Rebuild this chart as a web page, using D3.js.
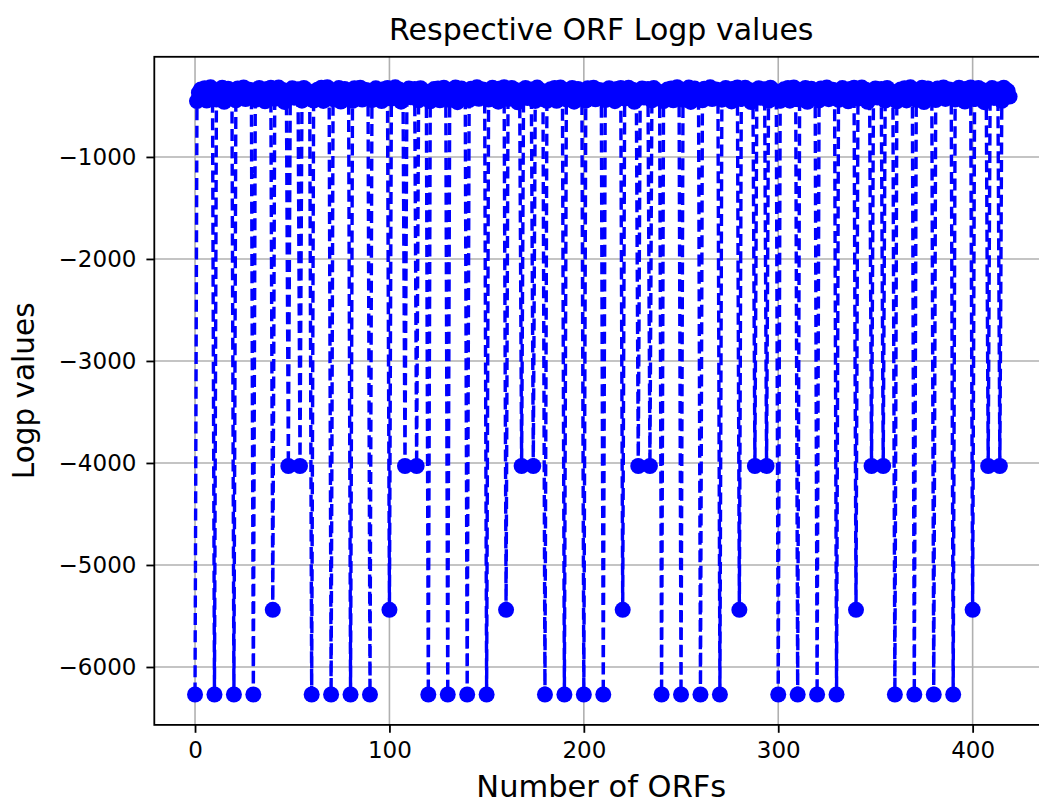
<!DOCTYPE html>
<html>
<head>
<meta charset="utf-8">
<script src="https://cdn.jsdelivr.net/npm/d3@7"></script>
<style>
  html, body { margin: 0; padding: 0; background: #fff; }
  svg { display: block; font-family: "DejaVu Sans", sans-serif; }
</style>
</head>
<body>
<div id="grafico"></div>
<script>
// Logp value of every ORF, in order (index = ORF number)
const logpValues = [
  -6270, -452, -371, -338, -405, -326, -447, -360, -318, -421,
  -6270, -438, -345, -392, -322, -460, -356, -331, -414, -377,
  -6270, -445, -329, -398, -350, -319, -433, -367, -341, -412,
  -6270, -440, -362, -324, -417, -349, -455, -333, -385, -321,
  -5440, -430, -358, -320, -402, -343, -461, -374, -4030, -352,
  -327, -419, -366, -336, -4030, -448, -323, -395, -354, -410,

  -6270, -447, -366, -341, -409, -322, -451, -363, -316, -425,
  -6270, -434, -349, -388, -325, -457, -352, -335, -418, -373,
  -6270, -449, -326, -401, -346, -321, -437, -364, -344, -408,
  -6270, -443, -358, -327, -413, -345, -452, -336, -381, -324,
  -5440, -427, -361, -318, -406, -340, -458, -371, -4030, -355,
  -330, -415, -369, -333, -4030, -444, -326, -391, -357, -414,

  -6270, -455, -368, -335, -401, -329, -444, -357, -321, -418,
  -6270, -441, -342, -395, -319, -463, -359, -328, -411, -380,
  -6270, -442, -332, -395, -353, -317, -430, -370, -338, -415,
  -6270, -437, -365, -321, -420, -352, -458, -330, -388, -318,
  -5440, -433, -355, -323, -399, -346, -464, -377, -4030, -349,
  -324, -422, -363, -339, -4030, -451, -320, -398, -351, -407,

  -6270, -449, -374, -336, -408, -324, -450, -358, -320, -423,
  -6270, -436, -347, -390, -324, -458, -354, -333, -416, -375,
  -6270, -447, -327, -400, -348, -321, -435, -365, -343, -410,
  -6270, -442, -360, -326, -415, -347, -453, -335, -383, -323,
  -5440, -428, -360, -322, -404, -341, -459, -372, -4030, -354,
  -329, -417, -368, -334, -4030, -446, -325, -393, -356, -412,

  -6270, -453, -369, -340, -403, -328, -445, -362, -317, -420,
  -6270, -439, -343, -394, -320, -461, -357, -330, -412, -379,
  -6270, -444, -331, -396, -351, -318, -432, -368, -340, -413,
  -6270, -439, -363, -323, -418, -350, -456, -332, -386, -320,
  -5440, -431, -357, -321, -401, -344, -462, -375, -4030, -351,
  -326, -420, -365, -337, -4030, -449, -322, -396, -353, -409,

  -6270, -450, -372, -337, -406, -325, -448, -361, -319, -422,
  -6270, -437, -346, -391, -323, -459, -355, -332, -415, -376,
  -6270, -446, -328, -399, -349, -320, -434, -366, -342, -411,
  -6270, -441, -361, -325, -416, -348, -454, -334, -384, -322,
  -5440, -429, -359, -320, -403, -342, -460, -373, -4030, -353,
  -328, -418, -367, -335, -4030, -447, -324, -394, -355, -411,

  -6270, -454, -370, -339, -404, -327, -446, -359, -318, -419,
  -6270, -440, -344, -393, -321, -462, -358, -329, -413, -378,
  -6270, -443, -330, -397, -352, -319, -431, -369, -339, -414,
  -6270, -438, -364, -322, -419, -351, -457, -331, -387, -319,
  -5440, -432, -356, -324, -400, -345, -463, -376, -4030, -350,
  -325, -421, -364, -338, -4030, -450, -321, -397, -352, -408
];

const xTicks = [0, 100, 200, 300, 400];
const yTicks = [-6000, -5000, -4000, -3000, -2000, -1000];

const titulo = "Respective ORF Logp values";
const etiquetaX = "Number of ORFs";
const etiquetaY = "Logp values";

dibujarGrafico();

function dibujarGrafico() {
    const width = 1039;
    const height = 803;

    // caja de ejes (el borde derecho queda fuera de la imagen, como en la referencia)
    const left = 154.3, right = 1050.3, top = 56.8, bottom = 724.9;
    const tickLen = 7.9;
    const azul = "#0000ff";

    const n = logpValues.length;
    const pad = 0.05;
    const xSpan = n - 1;
    const yMin = d3.min(logpValues), yMax = d3.max(logpValues);
    const ySpan = yMax - yMin;

    const x = d3.scaleLinear()
        .domain([-pad * xSpan, xSpan + pad * xSpan])
        .range([left, right]);

    const y = d3.scaleLinear()
        .domain([yMin - pad * ySpan, yMax + pad * ySpan])
        .range([bottom, top]);

    const svg = d3.select("#grafico")
        .append("svg")
        .attr("width", width)
        .attr("height", height)
        .attr("viewBox", [0, 0, width, height]);

    svg.append("rect")
        .attr("width", width)
        .attr("height", height)
        .attr("fill", "#fff");

    // rejilla
    const grid = svg.append("g")
        .attr("stroke", "#b0b0b0")
        .attr("stroke-width", 1.6);

    grid.selectAll("line.gx")
        .data(xTicks)
        .join("line")
        .attr("class", "gx")
        .attr("x1", d => x(d)).attr("x2", d => x(d))
        .attr("y1", top).attr("y2", bottom);

    grid.selectAll("line.gy")
        .data(yTicks)
        .join("line")
        .attr("class", "gy")
        .attr("x1", left).attr("x2", right)
        .attr("y1", d => y(d)).attr("y2", d => y(d));

    // línea discontinua + marcadores
    const linea = d3.line()
        .x((d, i) => x(i))
        .y(d => y(d));

    svg.append("path")
        .datum(logpValues)
        .attr("fill", "none")
        .attr("stroke", azul)
        .attr("stroke-width", 3.4)
        .attr("stroke-dasharray", "12,5.4")
        .attr("stroke-linejoin", "round")
        .attr("d", linea);

    svg.append("g")
        .selectAll("circle")
        .data(logpValues)
        .join("circle")
        .attr("cx", (d, i) => x(i))
        .attr("cy", d => y(d))
        .attr("r", 8)
        .attr("fill", azul);

    // marco
    svg.append("rect")
        .attr("x", left)
        .attr("y", top)
        .attr("width", right - left)
        .attr("height", bottom - top)
        .attr("fill", "none")
        .attr("stroke", "#000")
        .attr("stroke-width", 1.8);

    // ejes
    const ejeX = d3.axisBottom(x)
        .tickValues(xTicks)
        .tickSize(tickLen)
        .tickPadding(8.5)
        .tickFormat(d3.format("d"));

    const ejeY = d3.axisLeft(y)
        .tickValues(yTicks)
        .tickSize(tickLen)
        .tickPadding(10)
        .tickFormat(d3.format("d"));

    const gx = svg.append("g")
        .attr("transform", `translate(0,${bottom})`)
        .call(ejeX);

    const gy = svg.append("g")
        .attr("transform", `translate(${left},0)`)
        .call(ejeY);

    [gx, gy].forEach(g => {
        g.select(".domain").remove();
        g.selectAll(".tick line").attr("stroke", "#000").attr("stroke-width", 1.8);
        g.selectAll(".tick text")
            .attr("fill", "#000")
            .style("font-family", "'DejaVu Sans', sans-serif")
            .style("font-size", "23px");
    });

    // textos
    svg.append("text")
        .attr("x", (left + right) / 2 - 1)
        .attr("y", 40)
        .attr("text-anchor", "middle")
        .style("font-size", "30px")
        .attr("fill", "#000")
        .text(titulo);

    svg.append("text")
        .attr("x", (left + right) / 2 - 1)
        .attr("y", 797)
        .attr("text-anchor", "middle")
        .style("font-size", "30.5px")
        .attr("fill", "#000")
        .text(etiquetaX);

    svg.append("text")
        .attr("transform", `translate(34,${(top + bottom) / 2}) rotate(-90)`)
        .attr("text-anchor", "middle")
        .style("font-size", "29.5px")
        .attr("fill", "#000")
        .text(etiquetaY);
}
</script>
</body>
</html>
